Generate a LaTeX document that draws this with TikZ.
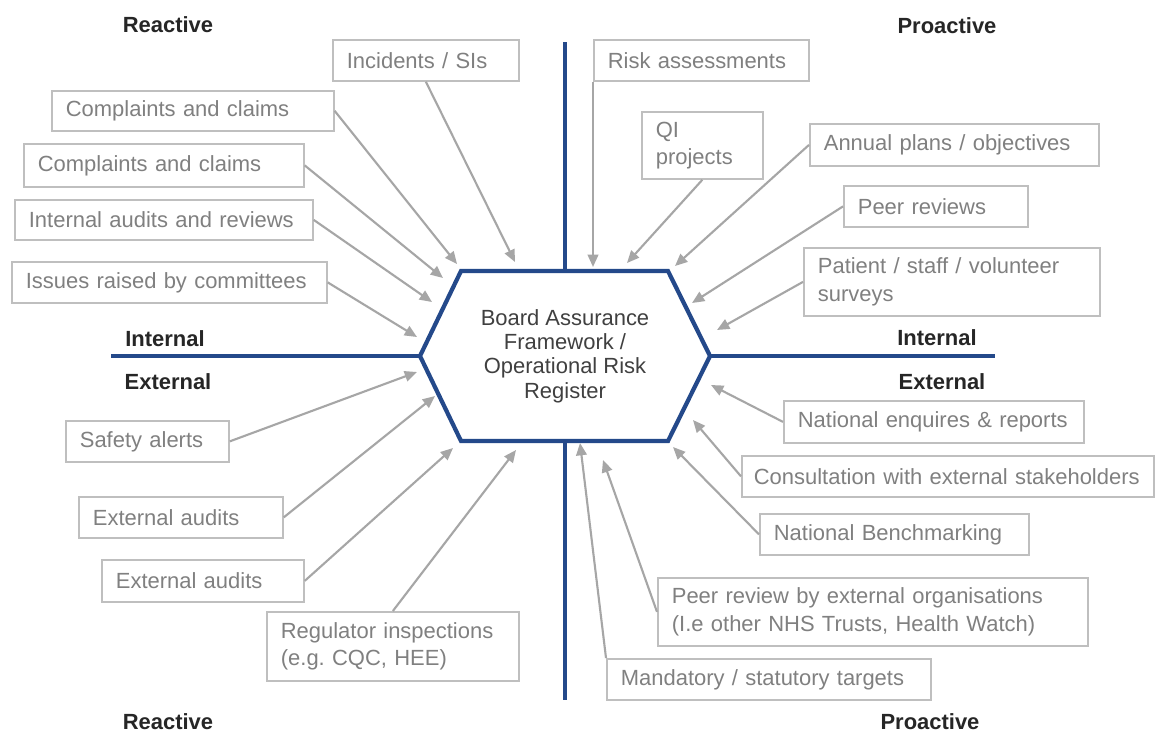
\documentclass[tikz,border=0pt]{standalone}
\usepackage{fontspec}
\setmainfont{Liberation Sans}
\usetikzlibrary{arrows.meta}
\frenchspacing
\definecolor{azulEje}{HTML}{24498A}
\definecolor{grisCaja}{HTML}{BFBFBF}
\definecolor{grisTexto}{HTML}{808080}
\definecolor{grisFlecha}{HTML}{A6A6A6}
\definecolor{grisOscuro}{HTML}{404040}
\definecolor{negroEtiqueta}{HTML}{262626}

\begin{document}
\begin{tikzpicture}[x=0.02cm,y=-0.02cm,
    >={Triangle[length=7pt,width=6pt]},
    caja/.style={draw=grisCaja,line width=1pt,text=grisTexto,anchor=north west,align=left,
      inner xsep=0.28cm,inner ysep=0pt,font=\fontsize{12.5}{15.5}\selectfont},
    etiqueta/.style={text=negroEtiqueta,font=\fontsize{12.5}{15}\selectfont\bfseries},
    eje/.style={azulEje,line width=2.4pt},
    flecha/.style={->,grisFlecha,line width=1.2pt}]
    \fill[white] (0,0) rectangle (1155,733);
    \draw[eje] (565,42) -- (565,271);
    \draw[eje] (565,441) -- (565,700);
    \draw[eje] (111,356) -- (420,356);
    \draw[eje] (710,356) -- (995,356);
    \draw[eje,fill=white] (420,356) -- (461,271) -- (668,271) -- (710,356) -- (668,441) -- (461,441) -- cycle;
    \node[text=grisOscuro,align=center,font=\fontsize{12.5}{13.9}\selectfont] (baf) at (565,356)
      {Board Assurance\\Framework /\\Operational Risk\\Register};

    \node[etiqueta] (reacArr) at (168,25) {Reactive};
    \node[etiqueta] (proArr) at (947,26) {Proactive};
    \node[etiqueta] (intIzq) at (165,339) {Internal};
    \node[etiqueta] (extIzq) at (168,382) {External};
    \node[etiqueta] (intDer) at (937,338) {Internal};
    \node[etiqueta] (extDer) at (942,382) {External};
    \node[etiqueta] (reacAb) at (168,722) {Reactive};
    \node[etiqueta] (proAb) at (930,722) {Proactive};

    \node[caja,text width=3.16cm,minimum height=0.82cm] (inc) at (332,39) {Incidents / SIs};
    \node[caja,text width=5.08cm,minimum height=0.80cm] (quejaA) at (51,90) {Complaints and claims};
    \node[caja,text width=5.04cm,minimum height=0.86cm] (quejaB) at (23,143) {Complaints and claims};
    \node[caja,text width=5.40cm,minimum height=0.80cm] (audInt) at (14,199) {Internal audits and reviews};
    \node[caja,text width=5.74cm,minimum height=0.82cm] (comites) at (11,261) {Issues raised by committees};
    \node[caja,text width=3.74cm,minimum height=0.82cm] (riesgo) at (593,39) {Risk assessments};
    \node[caja,text width=1.86cm,minimum height=1.34cm] (qi) at (641,111) {QI\\projects};
    \node[caja,text width=5.22cm,minimum height=0.84cm] (anual) at (809,123) {Annual plans / objectives};
    \node[caja,text width=3.12cm,minimum height=0.82cm] (pares) at (843,185) {Peer reviews};
    \node[caja,text width=5.36cm,minimum height=1.36cm] (encuestas) at (803,247) {Patient / staff / volunteer\\surveys};
    \node[caja,text width=5.44cm,minimum height=0.84cm] (nacional) at (783,400) {National enquires \& reports};
    \node[caja,text width=7.76cm,inner xsep=0.24cm,minimum height=0.82cm] (consulta) at (741,455) {Consultation with external stakeholders};
    \node[caja,text width=4.82cm,minimum height=0.82cm] (bench) at (759,513) {National Benchmarking};
    \node[caja,text width=8.04cm,minimum height=1.36cm] (paresExt) at (657,577) {Peer review by external organisations\\(I.e other NHS Trusts, Health Watch)};
    \node[caja,text width=5.92cm,minimum height=0.82cm] (metas) at (606,658) {Mandatory / statutory targets};
    \node[caja,text width=2.70cm,minimum height=0.82cm] (alertas) at (65,420) {Safety alerts};
    \node[caja,text width=3.52cm,minimum height=0.82cm] (audExtA) at (78,496) {External audits};
    \node[caja,text width=3.48cm,minimum height=0.84cm] (audExtB) at (101,559) {External audits};
    \node[caja,text width=4.48cm,minimum height=1.38cm] (regulador) at (266,611) {Regulator inspections\\(e.g. CQC, HEE)};

    \coordinate (tInc) at (515,262);
    \coordinate (tQuejaA) at (457,264);
    \coordinate (tQuejaB) at (443,278);
    \coordinate (tAudInt) at (432,302);
    \coordinate (tComites) at (417,337);
    \coordinate (tRiesgo) at (593,267);
    \coordinate (tQi) at (627,263);
    \coordinate (tAnual) at (675,266);
    \coordinate (tPares) at (692,303);
    \coordinate (tEncuestas) at (717,330);
    \coordinate (tNacional) at (711,385);
    \coordinate (tConsulta) at (693,420);
    \coordinate (tBench) at (673,447);
    \coordinate (tParesExt) at (603,460);
    \coordinate (tMetas) at (580,443);
    \coordinate (tAlertas) at (417,372);
    \coordinate (tAudExtA) at (435,396);
    \coordinate (tAudExtB) at (453,448);
    \coordinate (tRegulador) at (516,450);

    \draw[flecha] (inc.south) -- (tInc);
    \draw[flecha] (quejaA.east) -- (tQuejaA);
    \draw[flecha] (quejaB.east) -- (tQuejaB);
    \draw[flecha] (audInt.east) -- (tAudInt);
    \draw[flecha] (comites.east) -- (tComites);
    \draw[flecha] (riesgo.south west) -- (tRiesgo);
    \draw[flecha] (qi.south) -- (tQi);
    \draw[flecha] (anual.west) -- (tAnual);
    \draw[flecha] (pares.west) -- (tPares);
    \draw[flecha] (encuestas.west) -- (tEncuestas);
    \draw[flecha] (nacional.west) -- (tNacional);
    \draw[flecha] (consulta.west) -- (tConsulta);
    \draw[flecha] (bench.west) -- (tBench);
    \draw[flecha] (paresExt.west) -- (tParesExt);
    \draw[flecha] (metas.north west) -- (tMetas);
    \draw[flecha] (alertas.east) -- (tAlertas);
    \draw[flecha] (audExtA.east) -- (tAudExtA);
    \draw[flecha] (audExtB.east) -- (tAudExtB);
    \draw[flecha] (regulador.north) -- (tRegulador);
  \end{tikzpicture}
\end{document}
